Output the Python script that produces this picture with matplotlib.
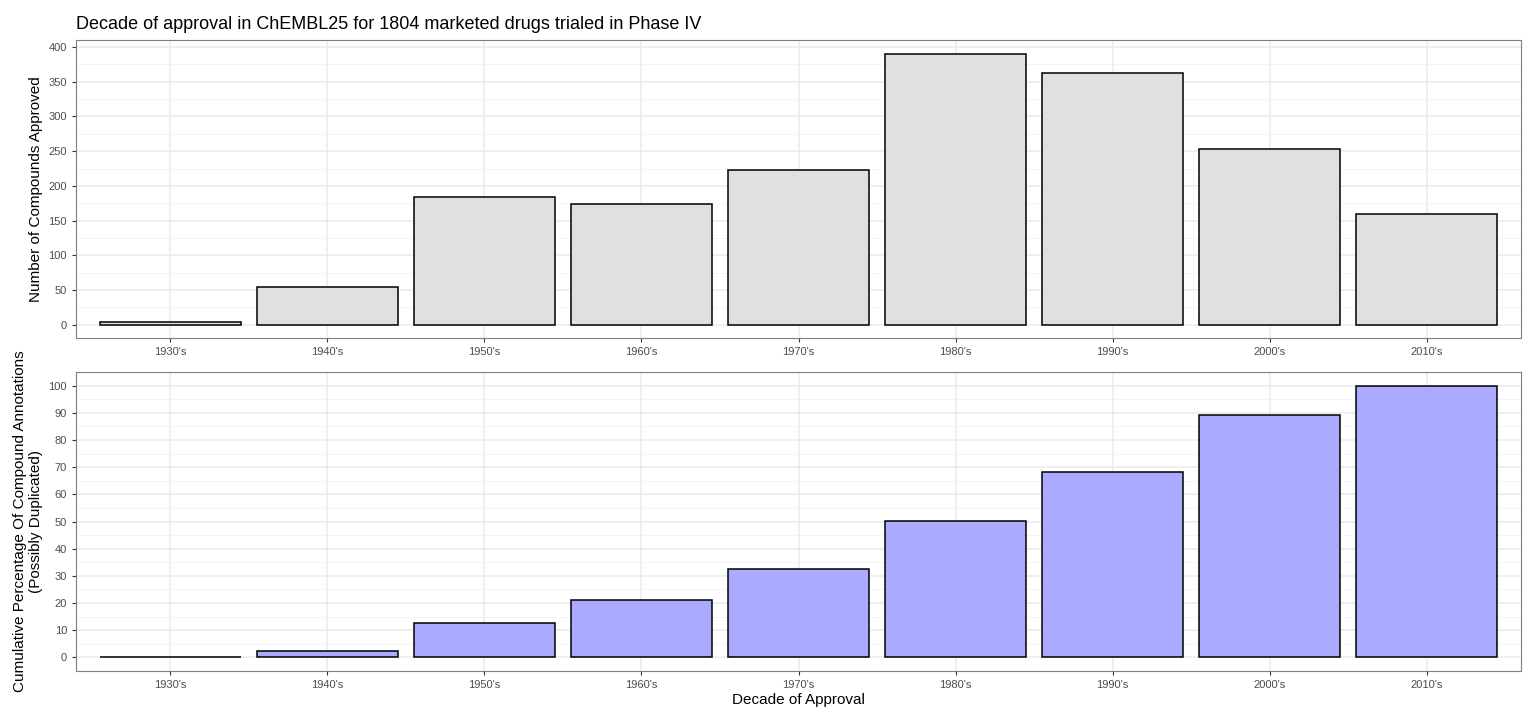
import matplotlib
matplotlib.use("Agg")
import matplotlib.pyplot as plt
import numpy as np

decades = ["1930's","1940's","1950's","1960's","1970's","1980's","1990's","2000's","2010's"]
counts = [4, 54, 184, 174, 223, 390, 362, 253, 160]
cum_pct = [0.2, 2.2, 12.8, 21.3, 32.4, 50.3, 68.3, 89.0, 100.0]

plt.rcParams['font.family'] = ['Liberation Sans', 'DejaVu Sans']
fig = plt.figure(figsize=(15.36, 7.24), dpi=100)
W, H = 1536, 724
ax1 = fig.add_axes([76/W, 1-338/H, (1521-76)/W, (338-40)/H])
ax2 = fig.add_axes([76/W, 1-671/H, (1521-76)/W, (671-372)/H])

def style(ax, major, minor, ymax, lo):
    x = np.arange(len(decades))
    ax.set_xlim(-0.6, len(decades)-0.4)
    ax.set_ylim(lo, ymax)
    ax.set_xticks(x)
    ax.set_xticklabels(decades, fontsize=8, color='#4d4d4d')
    ax.set_yticks(major)
    ax.set_yticklabels([str(int(v)) for v in major], fontsize=8, color='#4d4d4d')
    ax.set_yticks(minor, minor=True)
    ax.tick_params(axis='y', which='minor', length=0)
    ax.tick_params(which='major', length=3, color='#333333')
    ax.grid(True, which='major', color='#ebebeb', linewidth=1.1)
    ax.grid(True, which='minor', axis='y', color='#f2f2f2', linewidth=0.6)
    ax.set_axisbelow(True)
    for s in ax.spines.values():
        s.set_color('#7f7f7f'); s.set_linewidth(0.8)

x = np.arange(len(decades))
ax1.bar(x, counts, width=0.9, color='#e0e0e0', edgecolor='black', linewidth=1.1)
style(ax1, np.arange(0, 401, 50), np.arange(25, 401, 50), 410, -19)
ax1.set_ylabel("Number of Compounds Approved", fontsize=11)
ax1.set_title("Decade of approval in ChEMBL25 for 1804 marketed drugs trialed in Phase IV",
              loc='left', fontsize=13, x=0, pad=8)

ax2.bar(x, cum_pct, width=0.9, color='#aaaaff', edgecolor='black', linewidth=1.1)
style(ax2, np.arange(0, 101, 10), np.arange(5, 101, 10), 105, -5)
ax2.set_ylabel("Cumulative Percentage Of Compound Annotations\n(Possibly Duplicated)", fontsize=11)
ax2.set_xlabel("Decade of Approval", fontsize=11, labelpad=2)

fig.savefig("out.png", dpi=100)
